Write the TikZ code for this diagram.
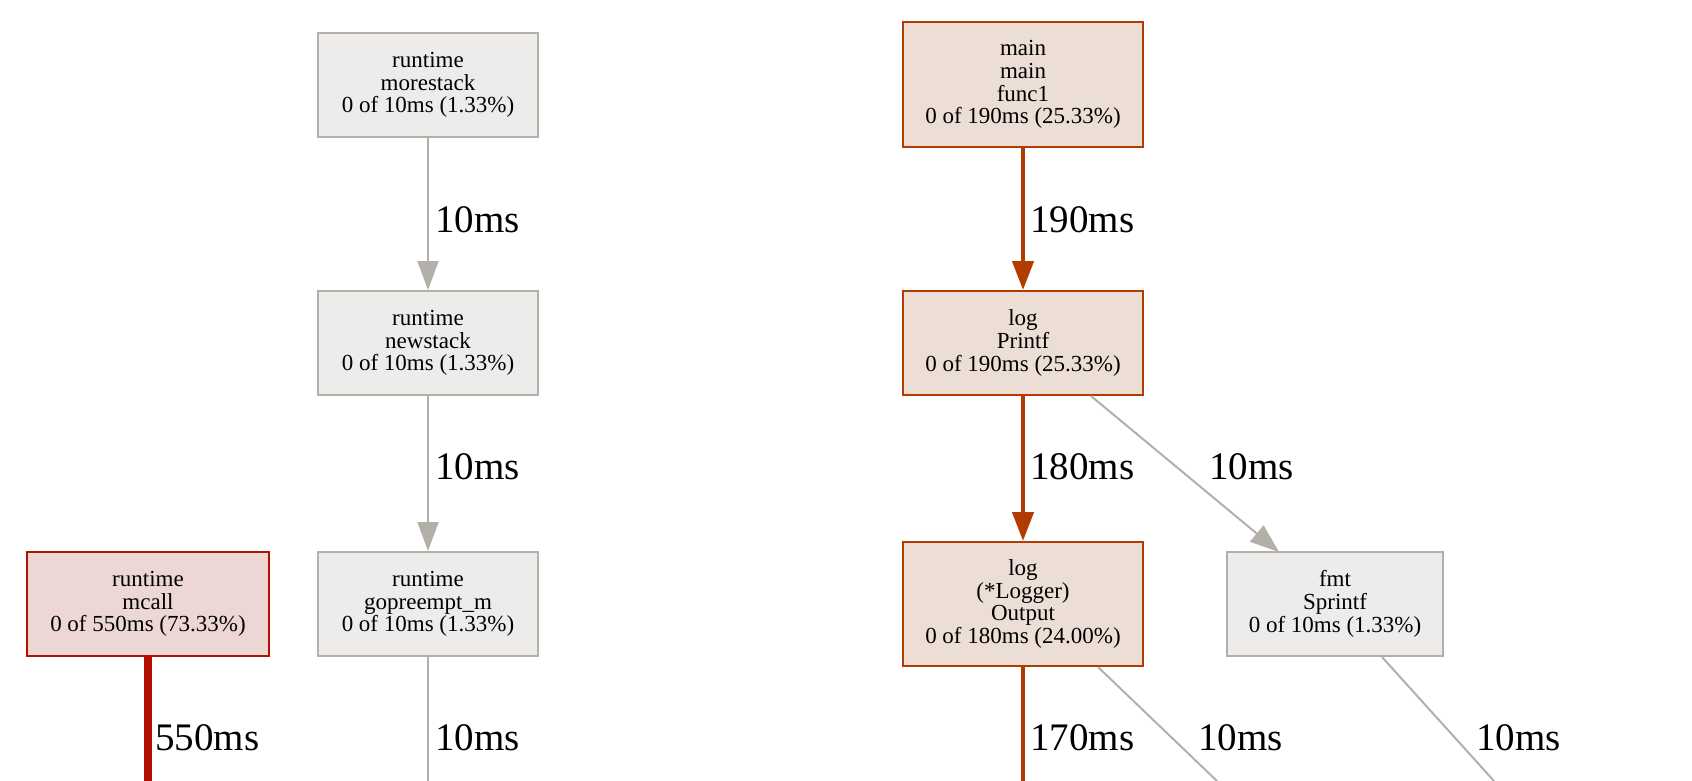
\documentclass[tikz,border=0pt]{standalone}
\usepackage{fontspec}
\setmainfont{Liberation Serif}
\usetikzlibrary{arrows.meta}
\definecolor{gfill}{RGB}{237,236,234}
\definecolor{gline}{RGB}{178,176,168}
\definecolor{ofill}{RGB}{237,222,213}
\definecolor{oline}{RGB}{178,60,0}
\definecolor{rfill}{RGB}{237,215,213}
\definecolor{rline}{RGB}{178,17,0}
\tikzset{
  x=1pt,y=-1pt,
  fn/.style={draw,line width=2pt,align=center,inner sep=0pt,
    font=\fontsize{23}{22.7}\selectfont},
  gnode/.style={fn,draw=gline,fill=gfill},
  onode/.style={fn,draw=oline,fill=ofill},
  rnode/.style={fn,draw=rline,fill=rfill},
  gedge/.style={draw=gline,line width=2pt,-{Triangle[length=29pt,width=21pt]}},
  oedge/.style={draw=oline,line width=4.5pt,-{Triangle[length=29pt,width=21pt]}},
  gedgeo/.style={draw=gline,line width=2pt},
  oedgeo/.style={draw=oline,line width=4.5pt},
  redgeo/.style={draw=rline,line width=8.5pt},
  elab/.style={anchor=base west,inner sep=0pt,font=\fontsize{39}{40}\selectfont},
}
\begin{document}
\begin{tikzpicture}
\useasboundingbox (0,0) rectangle (1692,780);
\node[gnode,minimum width=220pt,minimum height=104pt] (more) at (428,85) {runtime\\morestack\\0 of 10ms (1.33\%)};
\node[gnode,minimum width=220pt,minimum height=104pt] (news) at (428,343) {runtime\\newstack\\0 of 10ms (1.33\%)};
\node[gnode,minimum width=220pt,minimum height=104pt] (gopre) at (428,604) {runtime\\gopreempt\_m\\0 of 10ms (1.33\%)};
\node[rnode,minimum width=242pt,minimum height=104pt] (mcall) at (148,604) {runtime\\mcall\\0 of 550ms (73.33\%)};
\node[onode,minimum width=240pt,minimum height=125pt] (func) at (1023,84.5) {main\\main\\func1\\0 of 190ms (25.33\%)};
\node[onode,minimum width=240pt,minimum height=104pt] (printf) at (1023,343) {log\\Printf\\0 of 190ms (25.33\%)};
\node[onode,minimum width=240pt,minimum height=124pt] (output) at (1023,604) {log\\(*Logger)\\Output\\0 of 180ms (24.00\%)};
\node[gnode,minimum width=216pt,minimum height=104pt] (sprintf) at (1335,604) {fmt\\Sprintf\\0 of 10ms (1.33\%)};

\coordinate (e1) at (428,781);
\coordinate (e2) at (148,781);
\coordinate (e3) at (1023,781);
\coordinate (e4) at (1217,781);
\coordinate (e5) at (1494,781);
\coordinate (ps) at ([xshift=-53pt]printf.south east);
\coordinate (st) at (1279,552);
\coordinate (os) at ([xshift=-46pt]output.south east);
\coordinate (ss) at ([xshift=-62pt]sprintf.south east);

\draw[gedge] (more) -- (news);
\draw[gedge] (news) -- (gopre);
\draw[gedgeo] (gopre) -- (e1);
\draw[redgeo] (mcall) -- (e2);
\draw[oedge] (func) -- (printf);
\draw[oedge] (printf) -- (output);
\draw[gedge] (ps) -- (st);
\draw[oedgeo] (output) -- (e3);
\draw[gedgeo] (os) -- (e4);
\draw[gedgeo] (ss) -- (e5);

\node[elab] (l1) at (435,232) {10ms};
\node[elab] (l2) at (435,479) {10ms};
\node[elab] (l3) at (435,750) {10ms};
\node[elab] (l4) at (155,750) {550ms};
\node[elab] (l5) at (1030,232) {190ms};
\node[elab] (l6) at (1030,479) {180ms};
\node[elab] (l7) at (1209,479) {10ms};
\node[elab] (l8) at (1030,750) {170ms};
\node[elab] (l9) at (1198,750) {10ms};
\node[elab] (l10) at (1476,750) {10ms};
\end{tikzpicture}
\end{document}
